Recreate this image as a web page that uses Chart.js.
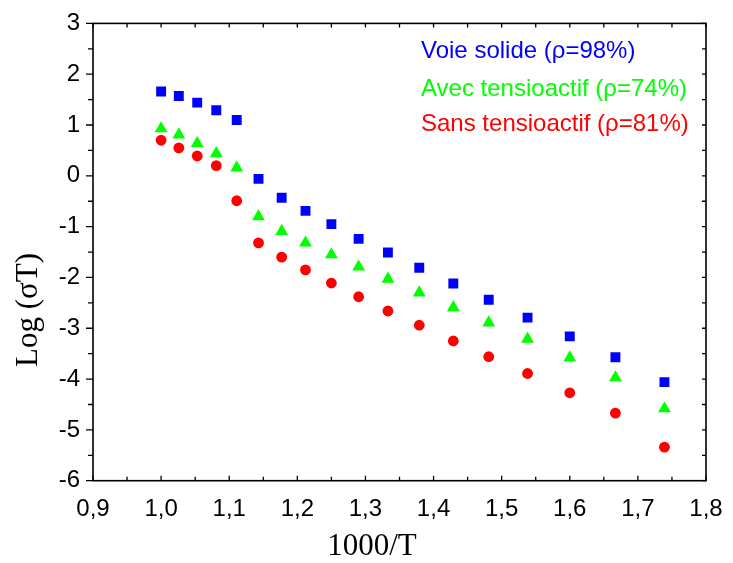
<!DOCTYPE html>
<html>
<head>
<meta charset="utf-8">
<script src="https://cdn.jsdelivr.net/npm/chart.js@4/dist/chart.umd.min.js"></script>
<style>
  html, body { margin: 0; padding: 0; background: #fff; }
  #wrap { width: 733px; height: 563px; }
</style>
</head>
<body>
<div id="wrap"><canvas id="c" width="733" height="563"></canvas></div>
<script>
// ---- data ----
const xValues = [1.000, 1.026, 1.053, 1.081, 1.111, 1.143, 1.177, 1.212, 1.250, 1.290, 1.333, 1.379, 1.429, 1.481, 1.538, 1.600, 1.667, 1.739];
const voieSolide = [1.66, 1.57, 1.44, 1.29, 1.10, -0.06, -0.43, -0.69, -0.95, -1.24, -1.51, -1.81, -2.12, -2.44, -2.79, -3.16, -3.57, -4.06];
const avecTensio = [0.93, 0.81, 0.64, 0.44, 0.16, -0.80, -1.09, -1.32, -1.55, -1.79, -2.03, -2.30, -2.59, -2.89, -3.21, -3.58, -3.97, -4.58];
const sansTensio = [0.70, 0.55, 0.39, 0.20, -0.49, -1.32, -1.60, -1.85, -2.11, -2.38, -2.66, -2.94, -3.25, -3.56, -3.89, -4.27, -4.67, -5.34];
const seriesLabels = ['Voie solide (ρ=98%)', 'Avec tensioactif (ρ=74%)', 'Sans tensioactif (ρ=81%)'];
const xTitle = '1000/T';
const yTitle = 'Log (σT)';

const SANS = '"Liberation Sans", Arial, sans-serif';
const SERIF = '"Liberation Serif", "Times New Roman", serif';

const toPts = ys => xValues.map((x, i) => ({ x: x, y: ys[i] }));

const decor = {
  id: 'decor',
  afterDraw(chart) {
    const ctx = chart.ctx;
    const xs = chart.scales.x, ys = chart.scales.y;
    const L = chart.chartArea.left, R = chart.chartArea.right, T = chart.chartArea.top, B = chart.chartArea.bottom;
    ctx.save();
    ctx.strokeStyle = '#000';
    ctx.lineWidth = 1.6;
    ctx.strokeRect(L, T, R - L, B - T);
    ctx.lineWidth = 1.3;
    ctx.beginPath();
    // y ticks: left outward, right inward
    for (let k = 0; k <= 18; k++) {
      const v = -6 + k * 0.5;
      const py = ys.getPixelForValue(v);
      const len = (k % 2 === 0) ? 7 : 5;
      ctx.moveTo(L - len, py); ctx.lineTo(L, py);
      ctx.moveTo(R, py); ctx.lineTo(R - 4, py);
    }
    // x ticks: bottom and top inward
    for (let k = 0; k <= 18; k++) {
      const v = 0.9 + k * 0.05;
      const px = xs.getPixelForValue(v);
      const len = (k % 2 === 0) ? 5 : 4;
      ctx.moveTo(px, B); ctx.lineTo(px, B - len);
      ctx.moveTo(px, T); ctx.lineTo(px, T + 4);
    }
    ctx.stroke();

    // legend text inside plot
    ctx.font = '24px ' + SANS;
    ctx.textAlign = 'left';
    ctx.textBaseline = 'alphabetic';
    const baselines = [58, 96, 131];
    chart.data.datasets.forEach((ds, i) => {
      ctx.fillStyle = ds.backgroundColor;
      ctx.fillText(ds.label, 421, baselines[i]);
    });

    // axis titles
    ctx.fillStyle = '#000';
    ctx.font = '31px ' + SERIF;
    ctx.textAlign = 'center';
    ctx.textBaseline = 'middle';
    ctx.fillText(xTitle, 372, 547);
    ctx.translate(29, 310);
    ctx.rotate(-Math.PI / 2);
    ctx.fillText(yTitle, 0, 0);
    ctx.restore();
  }
};

new Chart(document.getElementById('c'), {
  type: 'scatter',
  data: {
    datasets: [
      { label: seriesLabels[0], data: toPts(voieSolide), pointStyle: 'rect', pointRadius: 7, pointHoverRadius: 7,
        backgroundColor: '#0000FF', borderColor: '#0000FF', borderWidth: 0 },
      { label: seriesLabels[1], data: toPts(avecTensio), pointStyle: 'triangle', pointRadius: 7.4, pointHoverRadius: 7.4,
        backgroundColor: '#00FF00', borderColor: '#00FF00', borderWidth: 0 },
      { label: seriesLabels[2], data: toPts(sansTensio), pointStyle: 'circle', pointRadius: 5.4, pointHoverRadius: 5.4,
        backgroundColor: '#FF0000', borderColor: '#FF0000', borderWidth: 0 }
    ]
  },
  options: {
    responsive: false,
    devicePixelRatio: 1,
    animation: false,
    layout: { padding: { top: 23.4, right: 27, bottom: 0, left: 0 } },
    plugins: { legend: { display: false }, tooltip: { enabled: false }, title: { display: false } },
    scales: {
      x: {
        type: 'linear', min: 0.9, max: 1.8,
        grid: { display: false, drawTicks: false },
        border: { display: false },
        ticks: {
          stepSize: 0.1, autoSkip: false, maxRotation: 0, padding: 14,
          color: '#000', font: { family: SANS, size: 24 },
          callback: v => v.toFixed(1).replace('.', ',')
        },
        afterFit: s => { s.height = 82.3; s.paddingLeft = 0; s.paddingRight = 0; }
      },
      y: {
        type: 'linear', min: -6, max: 3,
        grid: { display: false, drawTicks: false },
        border: { display: false },
        ticks: {
          stepSize: 0.5, autoSkip: false, padding: 13,
          color: '#000', font: { family: SANS, size: 24 },
          callback: v => (Math.abs(v - Math.round(v)) < 1e-9 ? String(Math.round(v)) : '')
        },
        afterFit: s => { s.width = 93; s.paddingTop = 0; s.paddingBottom = 0; }
      }
    }
  },
  plugins: [decor]
});
</script>
</body>
</html>
